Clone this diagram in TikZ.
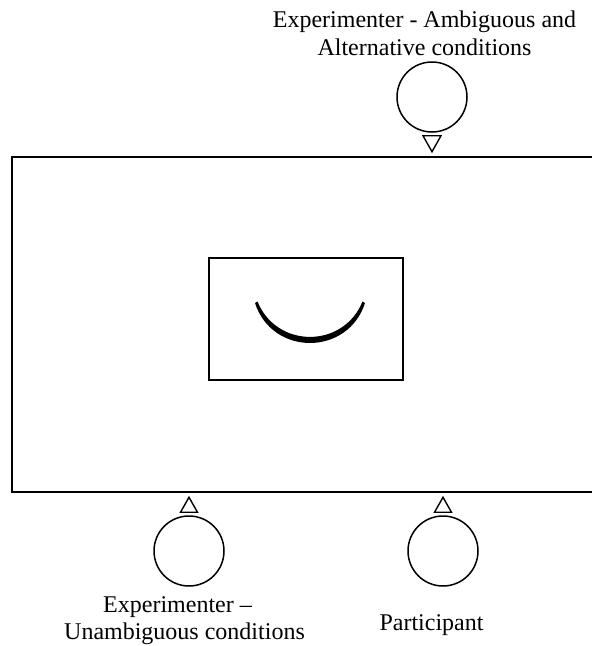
\documentclass[tikz,border=0pt]{standalone}
\usepackage{fontspec}
\setmainfont{Liberation Serif}
\usetikzlibrary{calc}
\begin{document}
\begin{tikzpicture}[x=1pt,y=-1pt,
  lbl/.style={anchor=base,inner sep=0pt,font=\fontsize{24}{28}\selectfont},
  seat/.style={circle,draw,line width=1.5pt,minimum size=70pt,inner sep=0pt},
  tri/.style={draw,line width=1.4pt,line join=miter,fill=white}]
\useasboundingbox (0,0) rectangle (592,646);
\clip (0,0) rectangle (592,646);
% table (extends beyond the right edge)
\coordinate (tr) at (600,157);
\coordinate (tl) at (12,157);
\coordinate (bl) at (12,492);
\coordinate (br) at (600,492);
\draw[line width=2pt] (tr) -- (tl) -- (bl) -- (br);
% screen
\node[draw,line width=1.7pt,minimum width=194pt,minimum height=122pt,inner sep=0pt] (screen) at (306,319) {};
% smile
\fill ($(screen.center)+(-51,-16)$) .. controls ($(screen.center)+(-33.8,37.3)$) and ($(screen.center)+(41.8,37.3)$) .. ($(screen.center)+(59,-16)$)
      -- ($(screen.center)+(56.5,-17.5)$) .. controls ($(screen.center)+(37.5,29.7)$) and ($(screen.center)+(-29.5,29.7)$) .. ($(screen.center)+(-48.5,-17.5)$) -- cycle;
% seats
\node[seat] (top) at (432,97) {};
\node[seat] (botl) at (189,551) {};
\node[seat] (botr) at (443,551) {};
% direction triangles
\draw[tri] ($(top.south)+(-9,3)$) -- ($(top.south)+(9,3)$) -- ($(top.south)+(0,19)$) -- cycle;
\draw[tri] ($(botl.north)+(-8.5,-3)$) -- ($(botl.north)+(8.5,-3)$) -- ($(botl.north)+(0,-18)$) -- cycle;
\draw[tri] ($(botr.north)+(-8.5,-3)$) -- ($(botr.north)+(8.5,-3)$) -- ($(botr.north)+(0,-18)$) -- cycle;
% labels
\node[lbl] (t1) at (424.5,27) {Experimenter - Ambiguous and};
\node[lbl] (t2) at (424.5,55) {Alternative conditions};
\node[lbl] (b1) at (177.5,612) {Experimenter –};
\node[lbl] (b2) at (184.5,639) {Unambiguous conditions};
\node[lbl] (p) at (431.5,630) {Participant};
\end{tikzpicture}
\end{document}
